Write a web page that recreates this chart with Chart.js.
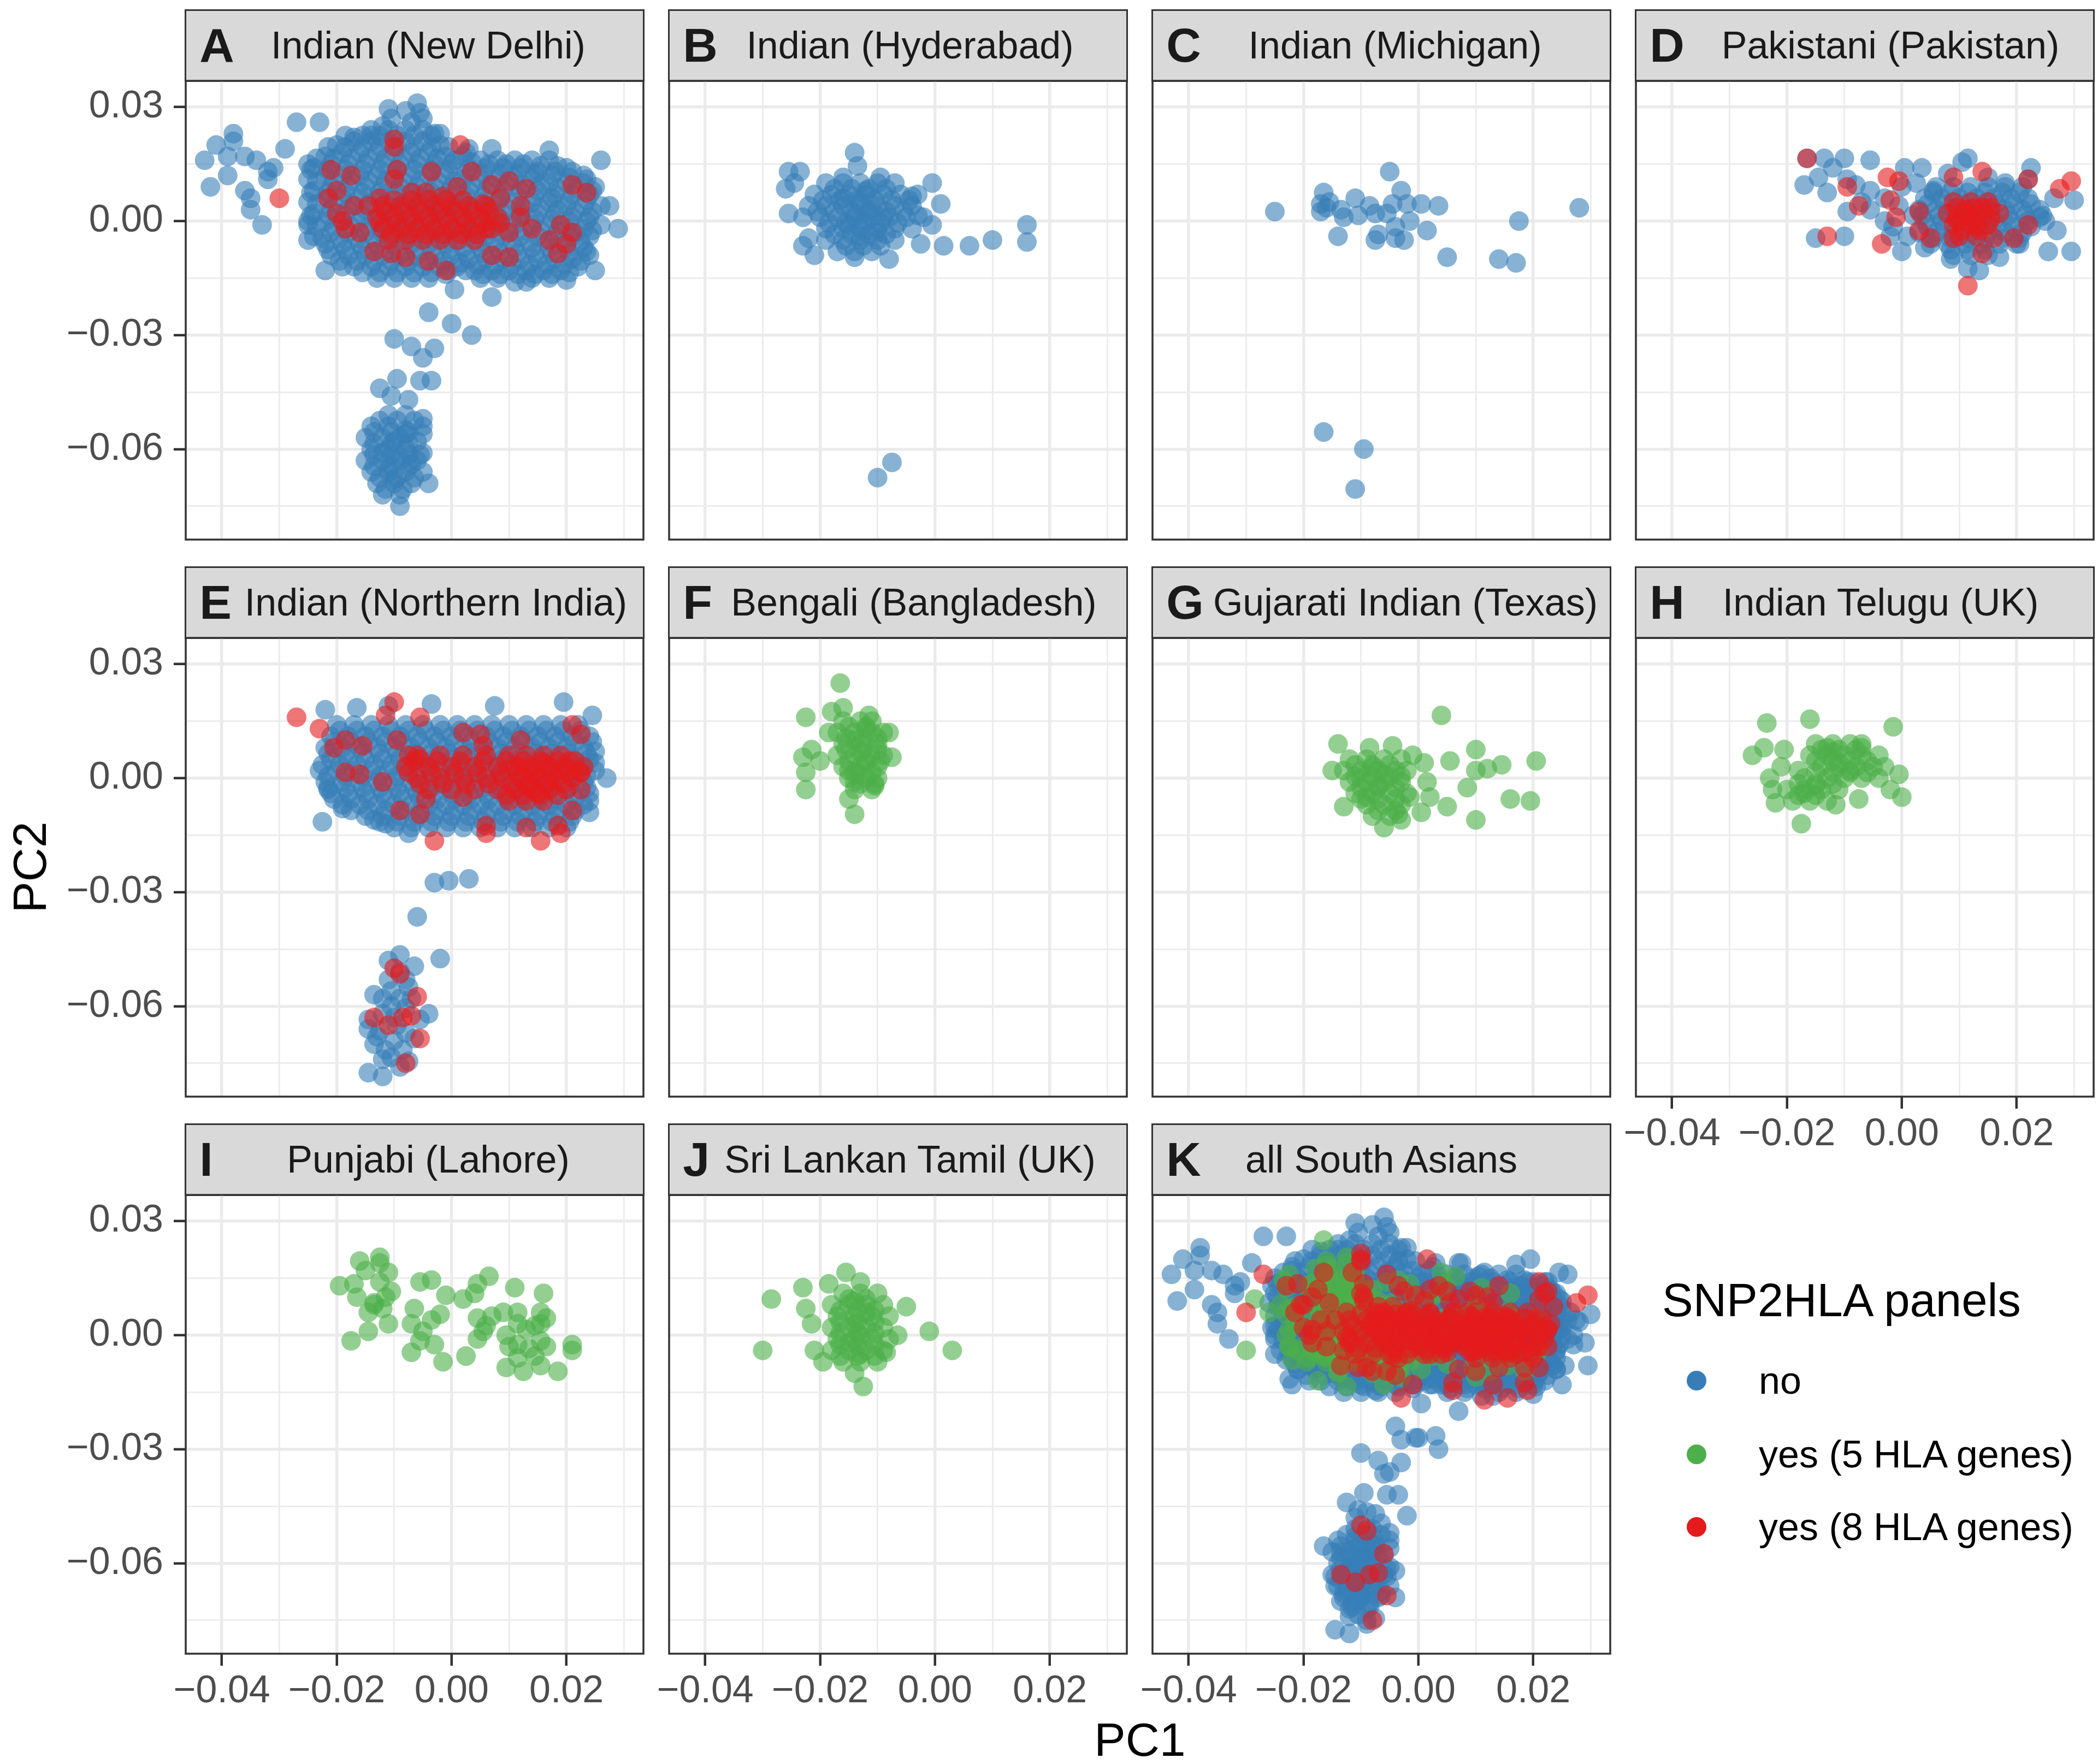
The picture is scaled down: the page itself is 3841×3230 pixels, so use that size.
<!DOCTYPE html>
<html><head><meta charset="utf-8">
<script src="https://cdn.jsdelivr.net/npm/chart.js@4.4.1/dist/chart.umd.min.js"></script>
<style>
html,body{margin:0;padding:0;background:#fff;width:3841px;height:3230px;overflow:hidden;font-family:"Liberation Sans",Arial,sans-serif;}
#root{position:relative;width:3841px;height:3230px;}
.strip{position:absolute;background:#D9D9D9;border:3.5px solid #333;box-sizing:border-box;}
.lt{position:absolute;left:24px;top:50%;transform:translateY(-50%);font-weight:bold;font-size:88px;color:#1A1A1A;line-height:1;}
.tt{position:absolute;top:50%;transform:translate(-50%,-50%);font-size:70px;color:#1A1A1A;white-space:nowrap;line-height:1;}
.cv{position:absolute;}
.axt{position:absolute;font-size:86px;color:#000;white-space:nowrap;line-height:1;}
.lg{position:absolute;white-space:nowrap;line-height:1;color:#000;}
.dot{position:absolute;width:36px;height:36px;border-radius:50%;}
</style></head>
<body><div id="root"></div>
<script>
// ---- values: PC1, PC2 pairs in units of 0.001 ----
const A_no = [-38,23,-38,21,-41,20,-43,16,-39,17,-36,17,-34,16,-39,12,-42,9,-36,8,-35,6,-35,3,-33,-1,-31,14,-32,11,-29,19,-27,26,-23,26,-32,13,-25,15,
-25,0,-25,-5,-22,-13,-19,-12,26,16,29,-2,27.5,4,25,-13,20,-15.5,17,18.6,13,-16,7,-20,0.5,-18,-2,23,7,19,
-6,31,-5.5,28.5,-11,29.5,-10.5,27,-12,25,-5,27,-14,22.5,-17,22,-8,29,-7,26,
-14,24,-11,24,-8,24,-5,24,-3,23,
-20,20,-17,21,-14,21,-11,21,-8,21,-5,21,-2,20,3,19,
-22,17,-19,18,-16,18,-13,18,-10,18,-7,18,-4,18,-1,17,2,17,5,16,8,16,11,16,14,16,17,16,20,14,
-24,14,-21,15,-18,15,-15,15,-12,15,-9,15,-6,15,-3,15,0,15,3,14,6,14,9,14,12,14,15,13,18,13,21,13,23,12,
-25,11,-22,12,-19,12,-16,12,-13,12,-10,12,-7,12,-4,12,-1,12,2,11,5,11,8,11,11,11,14,11,17,10,20,10,23,10,25,9,
-24,8,-21,9,-18,9,-15,9,-12,9,-9,9,-6,9,-3,9,0,9,3,8,6,8,9,8,12,8,15,8,18,7,21,7,24,7,
-25,5,-22,6,-19,6,-16,6,-13,6,-10,6,-7,6,-4,6,-1,6,2,5,5,5,8,5,11,5,14,5,17,5,20,4,23,4,26,4,
-24,2,-21,3,-18,3,-15,3,-12,3,-9,3,-6,3,-3,3,0,3,3,2,6,2,9,2,12,2,15,2,18,2,21,1,24,1,
-25,-1,-22,0,-19,0,-16,0,-13,0,-10,0,-7,0,-4,0,-1,0,2,-1,5,-1,8,-1,11,-1,14,-1,17,-1,20,-2,23,-2,26,-1,
-24,-4,-21,-3,-18,-3,-15,-3,-12,-3,-9,-3,-6,-3,-3,-3,0,-3,3,-4,6,-4,9,-4,12,-4,15,-4,18,-4,21,-4,24,-4,
-22,-6,-19,-6,-16,-6,-13,-6,-10,-6,-7,-6,-4,-6,-1,-6,2,-7,5,-7,8,-7,11,-7,14,-7,17,-7,20,-7,23,-7,
-21,-9,-18,-9,-15,-9,-12,-9,-9,-9,-6,-9,-3,-9,0,-9,3,-10,6,-10,9,-10,12,-10,15,-10,18,-10,21,-10,24,-9,
-17,-12,-14,-12,-11,-12,-8,-12,-5,-12,-2,-12,1,-12,4,-13,7,-13,10,-13,13,-13,16,-13,19,-13,22,-12,
-13,-15,-10,-15,-7,-15,-4,-15,-1,-14,5,-15,8,-15,11,-16,14,-15,17,-15,
-18.5,22.5,-15.5,22.5,-12.5,22.5,-9.5,22.5,-6.5,22.5,-3.5,22.5,
-21.5,19.5,-18.5,19.5,-15.5,19.5,-12.5,19.5,-9.5,19.5,-6.5,19.5,-3.5,19.5,-0.5,19.5,2.5,18,
-23.5,16.5,-20.5,16.5,-17.5,16.5,-14.5,16.5,-11.5,16.5,-8.5,16.5,-5.5,16.5,-2.5,16.5,0.5,16,3.5,15.5,6.5,15,9.5,15,12.5,15,15.5,14.5,18.5,14.5,
-24.5,13.5,-21.5,13.5,-18.5,13.5,-15.5,13.5,-12.5,13.5,-9.5,13.5,-6.5,13.5,-3.5,13.5,-0.5,13.5,2.5,12.5,5.5,12.5,8.5,12.5,11.5,12.5,14.5,12.5,17.5,12,20.5,11.5,23.5,11,
-23.5,10.5,-20.5,10.5,-17.5,10.5,-14.5,10.5,-11.5,10.5,-8.5,10.5,-5.5,10.5,-2.5,10.5,0.5,10.5,3.5,9.5,6.5,9.5,9.5,9.5,12.5,9.5,15.5,9.5,18.5,8.5,21.5,8.5,24.5,8,
-24.5,7.5,-21.5,7.5,-18.5,7.5,-15.5,7.5,-12.5,7.5,-9.5,7.5,-6.5,7.5,-3.5,7.5,-0.5,7.5,2.5,6.5,5.5,6.5,8.5,6.5,11.5,6.5,14.5,6.5,17.5,6,20.5,5.5,23.5,5.5,
-23.5,4.5,-20.5,4.5,-17.5,4.5,-14.5,4.5,-11.5,4.5,-8.5,4.5,-5.5,4.5,-2.5,4.5,0.5,4.5,3.5,3.5,6.5,3.5,9.5,3.5,12.5,3.5,15.5,3.5,18.5,3,21.5,2.5,24.5,2.5,
-24.5,1.5,-21.5,1.5,-18.5,1.5,-15.5,1.5,-12.5,1.5,-9.5,1.5,-6.5,1.5,-3.5,1.5,-0.5,1.5,2.5,0.5,5.5,0.5,8.5,0.5,11.5,0.5,14.5,0.5,17.5,0.5,20.5,0,23.5,0,
-23.5,-1.5,-20.5,-1.5,-17.5,-1.5,-14.5,-1.5,-11.5,-1.5,-8.5,-1.5,-5.5,-1.5,-2.5,-1.5,0.5,-2,3.5,-2.5,6.5,-2.5,9.5,-2.5,12.5,-2.5,15.5,-2.5,18.5,-2.5,21.5,-3,24.5,-2.5,
-22.5,-4.5,-19.5,-4.5,-16.5,-4.5,-13.5,-4.5,-10.5,-4.5,-7.5,-4.5,-4.5,-4.5,-1.5,-4.5,1.5,-5,4.5,-5.5,7.5,-5.5,10.5,-5.5,13.5,-5.5,16.5,-5.5,19.5,-5.5,22.5,-5.5,
-21.5,-7.5,-18.5,-7.5,-15.5,-7.5,-12.5,-7.5,-9.5,-7.5,-6.5,-7.5,-3.5,-7.5,-0.5,-7.5,2.5,-8.5,5.5,-8.5,8.5,-8.5,11.5,-8.5,14.5,-8.5,17.5,-8.5,20.5,-8.5,23.5,-8,
-19.5,-10.5,-16.5,-10.5,-13.5,-10.5,-10.5,-10.5,-7.5,-10.5,-4.5,-10.5,-1.5,-10.5,1.5,-11,4.5,-11.5,7.5,-11.5,10.5,-11.5,13.5,-11.5,16.5,-11.5,19.5,-11.5,22.5,-10.5,
-15.5,-13.5,-12.5,-13.5,-9.5,-13.5,-6.5,-13.5,-3.5,-13.5,-0.5,-13,2.5,-13,5.5,-14,8.5,-14,11.5,-14,14.5,-14,17.5,-14,20.5,-13.5,
-4,-24,0,-27,3.5,-30,-10,-31,-7,-33,-3,-33.5,-5,-36,-9.5,-41.5,-5.5,-42,-3.5,-42,-12.5,-44,-7.5,-47,-10.5,-46,
-11,-51,-8,-51,-5,-52,-14,-54,-11,-54,-8,-55,-5,-54,-15,-57,-12,-57,-9,-57,-6,-58,-14,-60,-11,-60,-8,-60,-5,-61,
-15,-63,-12,-63,-9,-63,-6,-63,-14,-66,-11,-66,-8,-66,-5,-66,-13,-69,-10,-69,-7,-69,-4,-69,-12,-72,-9,-72,-9,-75,
-10,-58,-9,-62,-11,-65,-8,-56,-10,-68,-12,-61,-7,-64,
-12.5,-52.5,-9.5,-52.5,-6.5,-52.5,-13.5,-55.5,-10.5,-55.5,-7.5,-55.5,-5,-56,-13.5,-58.5,-10.5,-58.5,-7.5,-58.5,
-13.5,-61.5,-10.5,-61.5,-7.5,-61.5,-5.5,-61.5,-13.5,-64.5,-10.5,-64.5,-7.5,-64.5,-12.5,-67.5,-9.5,-67.5,-6.5,-67.5,-11.5,-70.5,-8.5,-70.5];
const A_8 = [-10,21.5,-10,19.5,-9.5,13.5,-10,11,-21,13.5,-17.5,12,-3.5,13,3.5,13,1.5,20,-30,6,7,9.5,10,10.5,13,8.5,21,9.5,23.5,7.5,
-21.5,6,-20,8,-20,2,-19,0,-18.5,-2,-16,-3,-13.5,-8,-10.5,-8.5,-8,-9.5,-4,-10.5,-1,-13,7,-9,10,-9.5,18.5,-8.5,19,-1,21,-3,
14,-2,12,4,1,9,-1.5,6.5,-4.5,7.5,-7,7.5,8.5,6,5.5,4.5,12,1,10,-3,7,-2,-14.5,4,-17,4,-12.5,6,20,-6,17,-5,
-12,4,-9,4,-6,4,-3,4,0,4,3,4,6,4,-13,1,-10,1,-7,1,-4,1,-1,1,2,1,5,1,8,1,
-12,-2,-9,-2,-6,-2,-3,-2,0,-2,3,-2,6,-2,-11,-5,-8,-5,-5,-5,-2,-5,1,-5,4,-5,
-11.5,2.5,-8.5,2.5,-5.5,2.5,-2.5,2.5,0.5,2.5,3.5,2.5,6.5,2.5,-12.5,-0.5,-9.5,-0.5,-6.5,-0.5,-3.5,-0.5,-0.5,-0.5,2.5,-0.5,5.5,-0.5,8.5,-0.5,
-10.5,-3.5,-7.5,-3.5,-4.5,-3.5,-1.5,-3.5,1.5,-3.5,4.5,-3.5,-10,5.5,-7,5.5,-4,5.5,-1,5.5,2,5.5];
const B_no = [-14,18,-25.5,13,-23.5,13,-26,8.5,-24.5,10,-25.5,2,-23,1,-23,-6.5,-21,-9,-22,-4.5,-14,-9.5,-8,-10,-0.5,10,1,4.5,-0.5,-1,
-2.5,-6,1.5,-6.5,6,-6.5,10,-5,16,-1,16,-5.5,-4,6.5,-3,1.5,-9.5,11.5,-16,11.5,-13.5,14.5,-7.5,-63.5,-10,-67.5,
-19,10,-16,10,-13,10,-10,10,-7,10,-21,7,-18,7,-15,7,-12,7,-9,7,-6,7,-3,7,-22,4,-19,4,-16,4,-13,4,-10,4,-7,4,-4,4,
-20,1,-17,1,-14,1,-11,1,-8,1,-5,1,-2,1,-19,-2,-16,-2,-13,-2,-10,-2,-7,-2,-4,-2,-19,-5,-16,-5,-13,-5,-10,-5,-7,-5,
-17,-8,-14,-8,-11,-8,-14,2,-12,0,-13,5,-11,3,-15,-1,-9,1,-16,6,-10,-3,-13,-4,-12,8,
-17.5,8.5,-14.5,8.5,-11.5,8.5,-8.5,8.5,-19.5,5.5,-16.5,5.5,-13.5,5.5,-10.5,5.5,-7.5,5.5,-4.5,5.5,
-20.5,2.5,-17.5,2.5,-14.5,2.5,-11.5,2.5,-8.5,2.5,-5.5,2.5,-18.5,-0.5,-15.5,-0.5,-12.5,-0.5,-9.5,-0.5,-6.5,-0.5,
-17.5,-3.5,-14.5,-3.5,-11.5,-3.5,-8.5,-3.5,-15.5,-6.5,-12.5,-6.5,-9.5,-6.5];
const C_no = [-5,13,-16.5,7.5,-3,8,-25,2.5,-17,4.5,-17,2.5,-13.5,3,-11,6,-13,1,-10.5,1.5,-8.5,4,-7.5,2,-5.5,2,-4.5,4.5,-2,4.5,-1.5,0,
0.5,4.5,3.5,4,-14,-4,-7.5,-5,-7,-3.5,-4,-1.5,-4,-4.5,-2.5,-5,1.5,-2.5,5,-9.5,14,-10,17,-11,17.5,0,28,3.5,
-16.5,-55.5,-9.5,-60,-11,-70.5,-16,3.5,-15.5,5];
const D_no = [-16.5,16.5,-13.5,16.5,-10,16.5,-5.5,16,-17,9.5,-14.5,11.5,-12,14,-13,7.5,-9.5,11,-8,9.5,-9.5,2.5,-5.5,8,-5.5,3,-15,-4.5,-10,-4,
0,-8,0.5,14,3.5,14,2.5,10,10.5,15.5,11.5,16.5,22.5,14,22,11,30,5.5,26.5,6,27,-2.5,25.5,-8,29.5,-8,4,-7,8.5,-10,11.5,-12.5,13.5,-13,
17,-9.5,20.5,-6,24,1,18,10,15,11.5,8,12.5,5.5,8,-0.5,4,-1.5,-1.5,2,1.5,-3,6,-3,0,-7,5,0,9,-2,-4,1,-4,
6,9,9,9,12,9,15,9,18,9,21,9,4,6,7,6,10,6,13,6,16,6,19,6,22,6,3,3,6,3,9,3,12,3,15,3,18,3,21,3,24,3,
4,0,7,0,10,0,13,0,16,0,19,0,22,0,25,0,3,-3,6,-3,9,-3,12,-3,15,-3,18,-3,21,-3,5,-6,8,-6,11,-6,14,-6,17,-6,20,-6,9,-9,12,-9,15,-9,
5.5,7.5,8.5,7.5,11.5,7.5,14.5,7.5,17.5,7.5,20.5,7.5,4.5,4.5,7.5,4.5,10.5,4.5,13.5,4.5,16.5,4.5,19.5,4.5,22.5,4.5,
3.5,1.5,6.5,1.5,9.5,1.5,12.5,1.5,15.5,1.5,18.5,1.5,21.5,1.5,24.5,1.5,4.5,-1.5,7.5,-1.5,10.5,-1.5,13.5,-1.5,16.5,-1.5,19.5,-1.5,22.5,-1.5,
5.5,-4.5,8.5,-4.5,11.5,-4.5,14.5,-4.5,17.5,-4.5,20.5,-4.5,8.5,-7.5,11.5,-7.5,14.5,-7.5];
const D_8 = [-16.5,16.5,-9.5,9,-7.5,4,-2.5,11.5,-0.5,10.5,-2,5.5,-1,1,3,2.5,3,-2.5,5,-4.5,-13,-4,-3.5,-6,9,11.5,14,13,22,11,27.5,8.5,
29.5,10.5,22,-1,19.5,-4.5,14,-8.5,11.5,-17,16,-4.5,9,-4.5,
9,5,12,5,15,5,8,2,11,2,14,2,17,2,9,-1,12,-1,15,-1,10,-4,13,-4,12,1,11,3,13,-1.5,10,0,14,3.5,
9.5,3.5,12.5,3.5,15.5,3.5,9.5,0.5,12.5,0.5,15.5,0.5,10.5,-2.5,13.5,-2.5];
const E_no = [-22,18,-16.5,18.5,-11,19,-3.5,19.5,7.5,19,19.5,20,24.5,16.5,27,0,-22.5,-11.5,-21.5,-3,-19,-8,-13.5,-11,-11.5,-12,-7.5,-14.5,
-20,14,-17,14,-14,14,-11,14,-8,14,-5,14,-2,14,1,14,4,14,7,14,10,14,13,14,16,14,19,14,22,14,
-21,11,-18,11,-15,11,-12,11,-9,11,-6,11,-3,11,0,11,3,11,6,11,9,11,12,11,15,11,18,11,21,11,24,11,
-22,8,-19,8,-16,8,-13,8,-10,8,-7,8,-4,8,-1,8,2,8,5,8,8,8,11,8,14,8,17,8,20,8,23,8,25,7,
-21,5,-18,5,-15,5,-12,5,-9,5,-6,5,-3,5,0,5,3,5,6,5,9,5,12,5,15,5,18,5,21,5,24,5,
-23,2,-20,2,-17,2,-14,2,-11,2,-8,2,-5,2,-2,2,1,2,4,2,7,2,10,2,13,2,16,2,19,2,22,2,25,2,
-22,-1,-19,-1,-16,-1,-13,-1,-10,-1,-7,-1,-4,-1,-1,-1,2,-1,5,-1,8,-1,11,-1,14,-1,17,-1,20,-1,23,-1,
-21,-4,-18,-4,-15,-4,-12,-4,-9,-4,-6,-4,-3,-4,0,-4,3,-4,6,-4,9,-4,12,-4,15,-4,18,-4,21,-4,24,-4,
-19,-7,-16,-7,-13,-7,-10,-7,-7,-7,-4,-7,-1,-7,2,-7,5,-7,8,-7,11,-7,14,-7,17,-7,20,-7,23,-7,
-15,-10,-12,-10,-9,-10,-6,-10,-3,-10,0,-10,3,-10,6,-10,9,-10,12,-10,15,-10,18,-10,21,-10,24,-9,
-10,-13,-7,-13,-4,-13,-1,-13,2,-13,5,-13,8,-13,11,-13,14,-13,17,-13,20,-13,
-19.5,12.5,-16.5,12.5,-13.5,12.5,-10.5,12.5,-7.5,12.5,-4.5,12.5,-1.5,12.5,1.5,12.5,4.5,12.5,7.5,12.5,10.5,12.5,13.5,12.5,16.5,12.5,19.5,12.5,22.5,12.5,
-20.5,9.5,-17.5,9.5,-14.5,9.5,-11.5,9.5,-8.5,9.5,-5.5,9.5,-2.5,9.5,0.5,9.5,3.5,9.5,6.5,9.5,9.5,9.5,12.5,9.5,15.5,9.5,18.5,9.5,21.5,9.5,24.5,9.5,
-21.5,6.5,-18.5,6.5,-15.5,6.5,-12.5,6.5,-9.5,6.5,-6.5,6.5,-3.5,6.5,-0.5,6.5,2.5,6.5,5.5,6.5,8.5,6.5,11.5,6.5,14.5,6.5,17.5,6.5,20.5,6.5,23.5,6.5,
-22.5,3.5,-19.5,3.5,-16.5,3.5,-13.5,3.5,-10.5,3.5,-7.5,3.5,-4.5,3.5,-1.5,3.5,1.5,3.5,4.5,3.5,7.5,3.5,10.5,3.5,13.5,3.5,16.5,3.5,19.5,3.5,22.5,3.5,25,4,
-21.5,0.5,-18.5,0.5,-15.5,0.5,-12.5,0.5,-9.5,0.5,-6.5,0.5,-3.5,0.5,-0.5,0.5,2.5,0.5,5.5,0.5,8.5,0.5,11.5,0.5,14.5,0.5,17.5,0.5,20.5,0.5,23.5,0.5,
-21.5,-2.5,-18.5,-2.5,-15.5,-2.5,-12.5,-2.5,-9.5,-2.5,-6.5,-2.5,-3.5,-2.5,-0.5,-2.5,2.5,-2.5,5.5,-2.5,8.5,-2.5,11.5,-2.5,14.5,-2.5,17.5,-2.5,20.5,-2.5,23.5,-2.5,
-20.5,-5.5,-17.5,-5.5,-14.5,-5.5,-11.5,-5.5,-8.5,-5.5,-5.5,-5.5,-2.5,-5.5,0.5,-5.5,3.5,-5.5,6.5,-5.5,9.5,-5.5,12.5,-5.5,15.5,-5.5,18.5,-5.5,21.5,-5.5,24,-6,
-17.5,-8.5,-14.5,-8.5,-11.5,-8.5,-8.5,-8.5,-5.5,-8.5,-2.5,-8.5,0.5,-8.5,3.5,-8.5,6.5,-8.5,9.5,-8.5,12.5,-8.5,15.5,-8.5,18.5,-8.5,21.5,-8.5,
-12.5,-11.5,-9.5,-11.5,-6.5,-11.5,-3.5,-11.5,-0.5,-11.5,2.5,-11.5,5.5,-11.5,8.5,-11.5,11.5,-11.5,14.5,-11.5,17.5,-11.5,20.5,-11.5,
-3,-27.5,-0.5,-27,3,-26.5,-6,-36.5,-2,-47.5,
-9,-46.5,-6.5,-49.5,-13.5,-57,-10.5,-56,-7.5,-55,-4,-62,-14.5,-63.5,-13.5,-70,-11.5,-71.5,-8.5,-71.5,-6.5,-68.5,-12.5,-66.5,
-9.5,-65,-10.5,-60,-8,-60.5,-14.5,-77.5,-12,-78.5,-10.5,-73.5,-7.5,-74.5,-11,-53,-9,-51,-14.5,-66,-5.5,-63.5,-7,-58,
-11,-48,-8,-53,-12,-58,-9,-58,-12,-62,-10,-63,-13,-68,-10,-69,-8,-67,-12,-74,-9,-76];
const E_8 = [-27,16,-23,13,-10,20,-11.5,16.5,-5.5,16,21,14,22.5,11.5,-20.5,8,-18.5,10,-15.5,8.5,-9.5,10,2,12,5,11.5,5.5,8.5,12,10,
-18.5,1.5,-16,1,-12,-1,-7.5,6,-5.5,5,-9,-8.5,-5.5,-9.5,-4.5,-5.5,-3,-16.5,2,-5,6,-12.5,6,-14.5,13,-13,15.5,-16.5,18.5,-12.5,
19,-14.5,21,-8.5,22.5,-3,22.5,1.5,20.5,4.5,
-6,6,-2,6,2,6,6,6,10,6,13,6,16,6,19,6,-8,3,-4,3,0,3,4,3,8,3,11,3,14,3,17,3,20,3,23,3,
-6,0,-2,0,2,0,6,0,9,0,12,0,15,0,18,0,21,0,-4,-3,0,-3,4,-3,8,-3,11,-3,14,-3,17,-3,20,-3,10,-6,13,-6,16,-6,
14,1,16,4,17,-1,12,3,15,-4,19,2,13,-2,
-6.5,4.5,-2.5,4.5,1.5,4.5,5.5,4.5,9.5,4.5,12.5,4.5,15.5,4.5,18.5,4.5,21.5,4.5,
-7.5,1.5,-3.5,1.5,0.5,1.5,4.5,1.5,8.5,1.5,11.5,1.5,14.5,1.5,17.5,1.5,20.5,1.5,22.5,1.5,
-5.5,-1.5,-1.5,-1.5,2.5,-1.5,6.5,-1.5,10.5,-1.5,13.5,-1.5,16.5,-1.5,19.5,-1.5,9.5,-4.5,12.5,-4.5,15.5,-4.5,18.5,-4.5,
-10,-50,-9,-51.5,-6,-57.5,-13.5,-63,-11,-65,-8.5,-63,-7,-62.5,-5.5,-68.5,-8,-75];
const F_5 = [-16.5,25,-22.5,16,-18,17.5,-16,18.5,-11.5,16.5,-8,12,-18.5,12,-21.5,7.5,-23,5.5,-22.5,1.5,-22.5,-3,-7.5,5.5,-10.5,-2,-15,-5.5,-14,-9.5,-20,4.5,
-16,15,-13,15,-11,15,-17,12,-14,12,-11,12,-9,12,-16,9,-13,9,-10,9,-17,6,-14,6,-11,6,-9,6,-16,3,-13,3,-10,3,-15,0,-12,0,-10,0,
-14,-3,-11,-3,-13,7,-14,10,-12,4,-15,2,-12,13,-13,1,-14,-1,
-15,13.5,-12,13.5,-15.5,10.5,-12.5,10.5,-10,10.5,-15.5,7.5,-12.5,7.5,-10,7.5,-15,4.5,-12,4.5,-9.5,4.5,-14,1.5,-11,1.5,-13,-1.5,-10.5,-1.5];
const G_5 = [4,16.5,-14,9,-8.5,8,-4.5,8.5,-1,6,-15,2,5.5,4.5,10,7.5,12,2.5,14.5,3.5,20.5,4.5,10,2,8.5,-2.5,5,-7.5,16,-5.5,19.5,-6,10,-11,
1.5,-1,2,-5,1,4,0.5,-9,-13,-7.5,-1.5,-5,-3.5,-9.5,-6,-13,
-12,5,-9,5,-6,5,-3,5,-13,2,-10,2,-7,2,-4,2,-2,2,-12,-1,-9,-1,-6,-1,-3,-1,-11,-4,-8,-4,-5,-4,-2,-4,-9,-7,-6,-7,-3,-7,
-8,-10,-5,-10,-3,-11,-10,0,-8,3,-7,-2,-9,-5,-6,1,
-11,3.5,-8,3.5,-5,3.5,-11,0.5,-8,0.5,-5,0.5,-3,0.5,-10,-2.5,-7,-2.5,-4,-2.5,-10,-5.5,-7,-5.5,-4,-5.5,-7,-8.5,-4,-8.5];
const H_5 = [-23.5,14.5,-16,15.5,-1.5,13.5,-26,6,-24,8,-20.5,7.5,-21,3,-23,0,-22.5,-3,-22,-6.5,-17.5,-12,-0.5,1,0,-5,-2,-3,-3,3,-7,8,-7.5,-5.5,-11.5,-7,-18,2,
-15,9,-12,9,-9,9,-7,9,-16,6,-13,6,-10,6,-7,6,-4,6,-14,3,-11,3,-8,3,-5,3,-17,0,-13,0,-10,0,-7,0,-4,0,
-20,-3,-17,-3,-14,-3,-11,-3,-19,-6,-16,-6,-13,-6,-13,8,-11,4,-9,2,-17,-4,-15,-2,-12,7,
-14,7.5,-11,7.5,-8,7.5,-15,4.5,-12,4.5,-9,4.5,-6,4.5,-15,1.5,-12,1.5,-9,1.5,-6,1.5,-18,-1.5,-15,-1.5,-12,-1.5,-18,-4.5,-15,-4.5];
const I_5 = [-16,19.5,-12.5,20.5,-12.5,19,-11,16.5,-15,17,-19.5,13,-17,13.5,-16.5,10,-13.5,8.5,-11.5,10,-10.5,11.5,-14.5,6,-11,3,-14.5,1,-17.5,-1.5,
-6.5,7,-7,3,-5.5,14,-3.5,14.5,-1,10.5,2,9.5,4,11,6.5,15.5,4.5,13.5,11,12.5,16,11,-2,5.5,-3.5,4,-5,1,-5.5,-1.5,-7,-4.5,-3,-2.5,-1.5,-7,
2.5,-5.5,4.5,-1,4.5,4.5,6,2.5,9,6,11.5,6,15.5,6,9.5,0,9.5,-8.5,12.5,-9.5,15.5,-8,18.5,-9.5,21,-2.5,21,-4,11.5,-2.5,13.5,-3.5,
15.5,-1.5,16.5,-3,14.5,2.5,13,1.5,10,-3,14.5,-5.5,11.5,-6,7,5,5.5,1,11.5,3,16.5,4.5,15.5,3,-12.5,14,-13.5,8,-12,7];
const J_5 = [-28.5,9.5,-30,-4,-23,12.5,-18.5,13.5,-15.5,16.5,-13,14,-5,7.5,-1,1,3,-4,-6.5,0,-12.5,-13.5,-22.5,7,-21.5,3,-21,-4,-19.5,-7,-8.5,-4.5,
-16,11,-13,11,-10,11,-18,8,-15,8,-12,8,-9,8,-17,5,-14,5,-11,5,-8,5,-18,2,-15,2,-12,2,-9,2,-17,-1,-14,-1,-11,-1,-8,-1,
-18,-4,-15,-4,-12,-4,-9,-4,-16,-7,-13,-7,-10,-7,-14,-10,-14,3,-13,0,-15,-2,-12,6,-13,-5,-14,9,
-15,9.5,-12,9.5,-16.5,6.5,-13.5,6.5,-10.5,6.5,-16.5,3.5,-13.5,3.5,-10.5,3.5,-16.5,0.5,-13.5,0.5,-10.5,0.5,
-16.5,-2.5,-13.5,-2.5,-10.5,-2.5,-16.5,-5.5,-13.5,-5.5,-10.5,-5.5];
// panel K (all South Asians) pools every population above
const K_no = [].concat(A_no, B_no, C_no, D_no, E_no);
const K_5 = [].concat(F_5, G_5, H_5, I_5, J_5);
const K_8 = [].concat(A_8, D_8, E_8);

const X_TICKS = [-0.04,-0.03,-0.02,-0.01,0,0.01,0.02,0.03];
const X_MAJOR = [-0.04,-0.02,0,0.02];
const Y_TICKS = [-0.075,-0.06,-0.045,-0.03,-0.015,0,0.015,0.03];
const Y_MAJOR = [-0.06,-0.03,0,0.03];
const X_RANGE = [-0.0463, 0.0334];
const Y_RANGE = [-0.0838, 0.0369];
const LEGEND_LABELS = ['no','yes (5 HLA genes)','yes (8 HLA genes)'];

const PANELS = [
 {k:'A', t:'Indian (New Delhi)', c:0, r:0, no:A_no, y8:A_8, off:25},
 {k:'B', t:'Indian (Hyderabad)', c:1, r:0, no:B_no, off:22},
 {k:'C', t:'Indian (Michigan)', c:2, r:0, no:C_no, off:25},
 {k:'D', t:'Pakistani (Pakistan)', c:3, r:0, no:D_no, y8:D_8, off:47},
 {k:'E', t:'Indian (Northern India)', c:0, r:1, no:E_no, y8:E_8, off:39},
 {k:'F', t:'Bengali (Bangladesh)', c:1, r:1, y5:F_5, off:29},
 {k:'G', t:'Gujarati Indian (Texas)', c:2, r:1, y5:G_5, off:44},
 {k:'H', t:'Indian Telugu (UK)', c:3, r:1, y5:H_5, off:29, xlab:true},
 {k:'I', t:'Punjabi (Lahore)', c:0, r:2, y5:I_5, off:25},
 {k:'J', t:'Sri Lankan Tamil (UK)', c:1, r:2, y5:J_5, off:22},
 {k:'K', t:'all South Asians', c:2, r:2, no:K_no, y5:K_5, y8:K_8, off:0},
];

// ---- layout / style ----
const COL_X=[340,1225,2110,2995], ROW_Y=[148,1168,2188], PW=838, PH=840, STRIP_H=131;
const FONT='"Liberation Sans", Arial, sans-serif';
const COLORS={no:'rgba(55,126,184,0.6)', y5:'rgba(77,175,74,0.6)', y8:'rgba(228,26,28,0.6)'};
const SOLID={no:'#377EB8', y5:'#4DAF4A', y8:'#E41A1C'};
const root=document.getElementById('root');

function pts(a){const o=[];for(let i=0;i<a.length;i+=2)o.push({x:a[i]/1000,y:a[i+1]/1000});return o;}
function isMaj(v,arr){return arr.some(m=>Math.abs(m-v)<1e-9);}
function fmt(v){if(Math.abs(v)<1e-12)return '0.00';return (v<0?'\u2212':'')+Math.abs(v).toFixed(2);}

const framePlugin={id:'frame',afterDraw(ch){const a=ch.chartArea,c=ch.ctx;c.save();c.strokeStyle='#333333';c.lineWidth=3.5;c.strokeRect(a.left,a.top,a.right-a.left,a.bottom-a.top);c.restore();}};

PANELS.forEach(p=>{
  const x0=COL_X[p.c], y0=ROW_Y[p.r];
  const s=document.createElement('div'); s.className='strip';
  s.style.left=(x0-1.75)+'px'; s.style.top=(y0-STRIP_H)+'px';
  s.style.width=(PW+3.5)+'px'; s.style.height=(STRIP_H+1.75)+'px';
  const lt=document.createElement('span'); lt.className='lt'; lt.textContent=p.k; s.appendChild(lt);
  const tt=document.createElement('span'); tt.className='tt'; tt.textContent=p.t;
  tt.style.left='calc(50% + '+p.off+'px)'; s.appendChild(tt);
  root.appendChild(s);

  const showY=p.c===0, showX=(p.r===2)||!!p.xlab;
  const YW=showY?340:60, XH=showX?170:80, PT=80, PR=20;
  const cw=YW+PW+PR, chh=PT+PH+XH;
  const cv=document.createElement('canvas'); cv.className='cv';
  cv.width=cw; cv.height=chh; cv.style.width=cw+'px'; cv.style.height=chh+'px';
  cv.style.left=(x0-YW)+'px'; cv.style.top=(y0-PT)+'px';
  root.appendChild(cv);

  const ds=[];
  if(p.y8) ds.push({label:LEGEND_LABELS[2],data:pts(p.y8),backgroundColor:COLORS.y8,pointBackgroundColor:COLORS.y8});
  if(p.y5) ds.push({label:LEGEND_LABELS[1],data:pts(p.y5),backgroundColor:COLORS.y5,pointBackgroundColor:COLORS.y5});
  if(p.no) ds.push({label:LEGEND_LABELS[0],data:pts(p.no),backgroundColor:COLORS.no,pointBackgroundColor:COLORS.no});
  ds.forEach(d=>{d.pointRadius=18;d.pointBorderWidth=0;d.borderWidth=0;d.pointHoverRadius=18;d.showLine=false;d.clip=0;});

  new Chart(cv,{type:'scatter',data:{datasets:ds},plugins:[framePlugin],
    options:{responsive:false,animation:false,devicePixelRatio:1,events:[],
      layout:{padding:{top:PT,right:PR,left:0,bottom:0}},
      plugins:{legend:{display:false},tooltip:{enabled:false}},
      scales:{
        x:{type:'linear',min:X_RANGE[0],max:X_RANGE[1],
          afterBuildTicks:sc=>{sc.ticks=X_TICKS.map(v=>({value:v}));},
          afterFit:sc=>{sc.height=XH;},
          border:{display:false},
          grid:{color:'#EBEBEB',lineWidth:c=>isMaj(c.tick.value,X_MAJOR)?5.5:2.8,drawTicks:showX,tickLength:22,
                tickWidth:4.5,tickColor:c=>isMaj(c.tick.value,X_MAJOR)?'#333333':'rgba(0,0,0,0)'},
          ticks:{display:showX,autoSkip:false,maxRotation:0,minRotation:0,padding:6,color:'#4D4D4D',
                 font:{family:FONT,size:70},callback:v=>isMaj(v,X_MAJOR)?fmt(v):''}},
        y:{type:'linear',min:Y_RANGE[0],max:Y_RANGE[1],
          afterBuildTicks:sc=>{sc.ticks=Y_TICKS.map(v=>({value:v}));},
          afterFit:sc=>{sc.width=YW;},
          border:{display:false},
          grid:{color:'#EBEBEB',lineWidth:c=>isMaj(c.tick.value,Y_MAJOR)?5.5:2.8,drawTicks:showY,tickLength:22,
                tickWidth:4.5,tickColor:c=>isMaj(c.tick.value,Y_MAJOR)?'#333333':'rgba(0,0,0,0)'},
          ticks:{display:showY,autoSkip:false,padding:19,color:'#4D4D4D',
                 font:{family:FONT,size:70},callback:v=>isMaj(v,Y_MAJOR)?fmt(v):''}}
      }}});
});

const pc1=document.createElement('div'); pc1.className='axt'; pc1.textContent='PC1';
pc1.style.left='2087px'; pc1.style.top='3185px'; pc1.style.transform='translate(-50%,-50%)'; root.appendChild(pc1);
const pc2=document.createElement('div'); pc2.className='axt'; pc2.textContent='PC2';
pc2.style.left='54px'; pc2.style.top='1588px'; pc2.style.transform='translate(-50%,-50%) rotate(-90deg)'; root.appendChild(pc2);

const lgT=document.createElement('div'); lgT.className='lg'; lgT.textContent='SNP2HLA panels';
lgT.style.fontSize='85px'; lgT.style.left='3043px'; lgT.style.top='2380px'; lgT.style.transform='translateY(-50%)'; root.appendChild(lgT);
const keys=['no','y5','y8'], LY=[2528,2663,2796];
keys.forEach((k,i)=>{
  const d=document.createElement('div'); d.className='dot'; d.style.background=SOLID[k];
  d.style.left=(3106-18)+'px'; d.style.top=(LY[i]-18)+'px'; root.appendChild(d);
  const l=document.createElement('div'); l.className='lg'; l.textContent=LEGEND_LABELS[i];
  l.style.fontSize='70px'; l.style.left='3220px'; l.style.top=LY[i]+'px'; l.style.transform='translateY(-50%)'; root.appendChild(l);
});
</script>
</body></html>
